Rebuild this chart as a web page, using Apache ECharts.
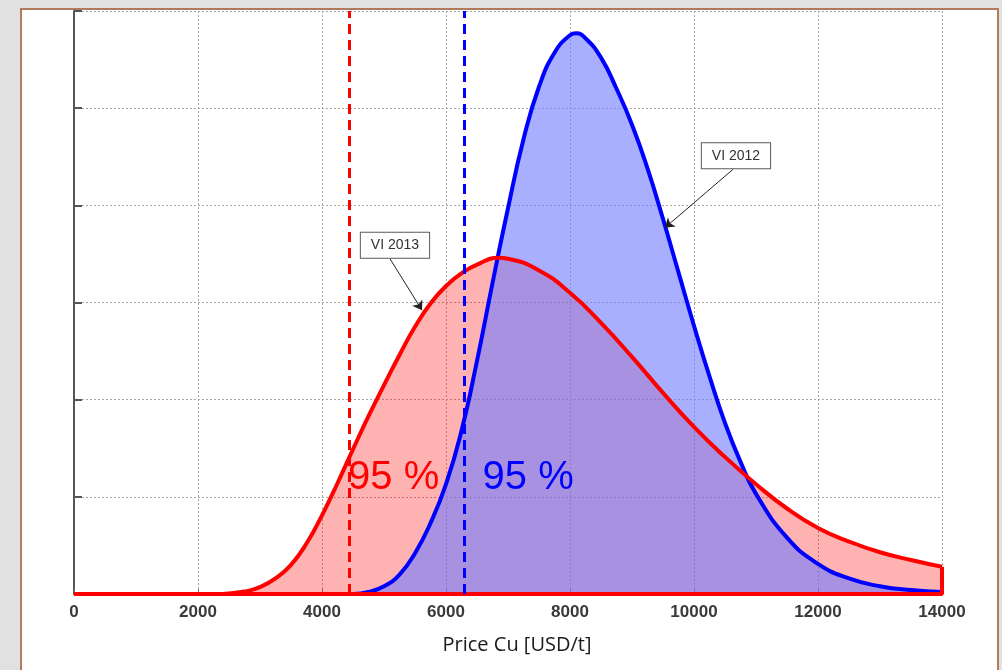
<!DOCTYPE html>
<html>
<head>
<meta charset="utf-8">
<script src="https://cdn.jsdelivr.net/npm/echarts@6.0.0/dist/echarts.min.js"></script>
<style>
  html, body { margin: 0; padding: 0; background: #e1e1e1; }
  #chart { width: 1002px; height: 670px; }
</style>
</head>
<body>
<div id="chart"></div>
<script>
// price axis (USD/t) and the two fitted densities
var xTicks = { min: 0, max: 14000, step: 2000 };
var yTicks = { min: 0, max: 6, step: 1 };

var red2013X = [2400, 2750, 3000, 3250, 3500, 3750, 4000, 4250, 4500, 4750, 5000, 5250, 5500, 5750, 6000, 6250, 6500,
  6850, 7000, 7500, 8000, 8500, 9000, 9500, 10000, 10500, 11000, 11500, 12000, 12500, 13000, 13500, 14000];
var red2013Y = [0, 0.025, 0.07, 0.16, 0.30, 0.52, 0.81, 1.14, 1.49, 1.83, 2.15, 2.46, 2.75, 2.99, 3.17, 3.30, 3.39,
  3.46, 3.45, 3.33, 3.10, 2.79, 2.44, 2.07, 1.72, 1.41, 1.13, 0.88, 0.68, 0.54, 0.43, 0.35, 0.28];

var blue2012X = [4500, 4750, 5000, 5250, 5500, 5750, 6000, 6250, 6500, 6750, 7000, 7250, 7500, 7750, 8000, 8100, 8250,
  8500, 8750, 9000, 9250, 9500, 9750, 10000, 10250, 10500, 10750, 11000, 11500, 12000, 12500, 13000, 13500, 14000];
var blue2012Y = [0, 0.02, 0.08, 0.20, 0.42, 0.73, 1.13, 1.68, 2.40, 3.20, 3.97, 4.68, 5.22, 5.57, 5.75, 5.77, 5.72,
  5.52, 5.20, 4.83, 4.38, 3.86, 3.31, 2.76, 2.24, 1.76, 1.36, 1.03, 0.58, 0.31, 0.16, 0.08, 0.04, 0.02];

// 95 % quantile markers
var redQuantile = 4440;
var blueQuantile = 6290;

// annotations (data coordinates)
var percentLabels = [
  { name: '95 %', at: [4420, 1.19], color: '#ff0000' },
  { name: '95 %', at: [6590, 1.19], color: '#0000ff' }
];
var noteBoxes = [
  { name: 'VI 2013', at: [5177, 3.59] },
  { name: 'VI 2012', at: [10677, 4.51] }
];
var noteArrows = [
  [[5097, 3.45], [5613, 2.92]],
  [[10629, 4.37], [9532, 3.77]]
];

function pairs(xs, ys) {
  return xs.map(function (x, i) {
    return [x, ys[i]];
  });
}

var redData = pairs(red2013X, red2013Y);
var blueData = pairs(blue2012X, blue2012Y);
var redEdge = [[xTicks.min, 0], [xTicks.max, 0], [xTicks.max, red2013Y[red2013Y.length - 1]]];

var chart = echarts.init(document.getElementById('chart'));

var gridLine = { show: true, lineStyle: { color: '#a8a8a8', width: 1, type: [2, 2] } };
var curveSmooth = 0.5;

var option = {
  animation: false,
  graphic: [{
    type: 'rect',
    left: 20,
    top: 8,
    z: -10,
    shape: { width: 977, height: 700 },
    style: { fill: '#ffffff', stroke: '#b27b5e', lineWidth: 2 }
  }],
  grid: { left: 74, right: 60, top: 11, bottom: 76, containLabel: false },
  xAxis: {
    type: 'value',
    min: xTicks.min,
    max: xTicks.max,
    interval: xTicks.step,
    name: 'Price Cu [USD/t]',
    nameLocation: 'middle',
    nameGap: 41,
    nameTextStyle: { fontFamily: 'Open Sans', fontSize: 20, color: '#1a1a1a', padding: [0, 0, 0, 18] },
    axisLine: { show: true, lineStyle: { color: '#555', width: 2 } },
    axisTick: { show: true, inside: true, length: 5, lineStyle: { color: '#777' } },
    axisLabel: {
      fontFamily: 'Liberation Sans',
      fontWeight: 'bold',
      fontSize: 17,
      color: '#3a3a3a',
      margin: 10,
      formatter: function (v) {
        return String(v);
      }
    },
    splitLine: gridLine
  },
  yAxis: {
    type: 'value',
    min: yTicks.min,
    max: yTicks.max,
    interval: yTicks.step,
    axisLine: { show: true, lineStyle: { color: '#555', width: 2 } },
    axisTick: { show: true, inside: true, length: 8, lineStyle: { color: '#555', width: 2 } },
    axisLabel: { show: false },
    splitLine: gridLine
  },
  series: [
    {
      // fills first, so the red line can sit on top of the blue fill
      name: 'VI 2013 fill',
      type: 'line',
      data: redData,
      smooth: curveSmooth,
      showSymbol: false,
      lineStyle: { width: 0 },
      areaStyle: { color: 'rgba(255,0,0,0.3)', opacity: 1 },
      z: 1
    },
    {
      name: 'VI 2012 fill',
      type: 'line',
      data: blueData,
      smooth: curveSmooth,
      showSymbol: false,
      lineStyle: { width: 0 },
      areaStyle: { color: 'rgba(115,124,255,0.61)', opacity: 1 },
      z: 2
    },
    {
      name: 'VI 2012',
      type: 'line',
      data: blueData,
      smooth: curveSmooth,
      showSymbol: false,
      lineStyle: { color: '#0000ff', width: 4 },
      z: 3
    },
    {
      name: 'VI 2013',
      type: 'line',
      data: redData,
      smooth: curveSmooth,
      showSymbol: false,
      lineStyle: { color: '#ff0000', width: 4 },
      z: 4
    },
    {
      name: 'VI 2013 edge',
      type: 'line',
      data: redEdge,
      showSymbol: false,
      lineStyle: { color: '#ff0000', width: 4 },
      z: 4
    },
    {
      name: 'quantiles',
      type: 'line',
      data: [],
      z: 5,
      markLine: {
        silent: true,
        symbol: ['none', 'none'],
        label: { show: false },
        data: [
          [{ coord: [redQuantile, yTicks.min], lineStyle: { color: '#ff0000' } }, { coord: [redQuantile, yTicks.max] }],
          [{ coord: [blueQuantile, yTicks.min], lineStyle: { color: '#0000ff' } }, { coord: [blueQuantile, yTicks.max] }]
        ],
        lineStyle: { width: 3, type: [10, 6], opacity: 1 }
      }
    },
    {
      name: 'percent',
      type: 'scatter',
      symbolSize: 0,
      z: 6,
      itemStyle: { opacity: 1 },
      data: percentLabels.map(function (p) {
        return {
          name: p.name,
          value: p.at,
          label: { color: p.color }
        };
      }),
      label: {
        show: true,
        position: 'right',
        distance: 0,
        formatter: '{b}',
        fontFamily: 'Liberation Sans',
        fontSize: 40
      }
    },
    {
      name: 'notes',
      type: 'scatter',
      symbolSize: 0,
      z: 7,
      itemStyle: { opacity: 1 },
      data: noteBoxes.map(function (n) {
        return { name: n.name, value: n.at };
      }),
      label: {
        show: true,
        position: 'inside',
        formatter: '{b}',
        fontFamily: 'Liberation Sans',
        fontSize: 14,
        color: '#333',
        backgroundColor: '#ffffff',
        borderColor: '#5a5a5a',
        borderWidth: 1,
        padding: [6, 10, 5, 10]
      },
      markLine: {
        silent: true,
        symbol: ['none', 'arrow'],
        symbolSize: 9,
        label: { show: false },
        lineStyle: { color: '#222', width: 1, type: 'solid' },
        data: noteArrows.map(function (a) {
          return [{ coord: a[0] }, { coord: a[1] }];
        })
      }
    }
  ]
};

chart.setOption(option);
</script>
</body>
</html>
